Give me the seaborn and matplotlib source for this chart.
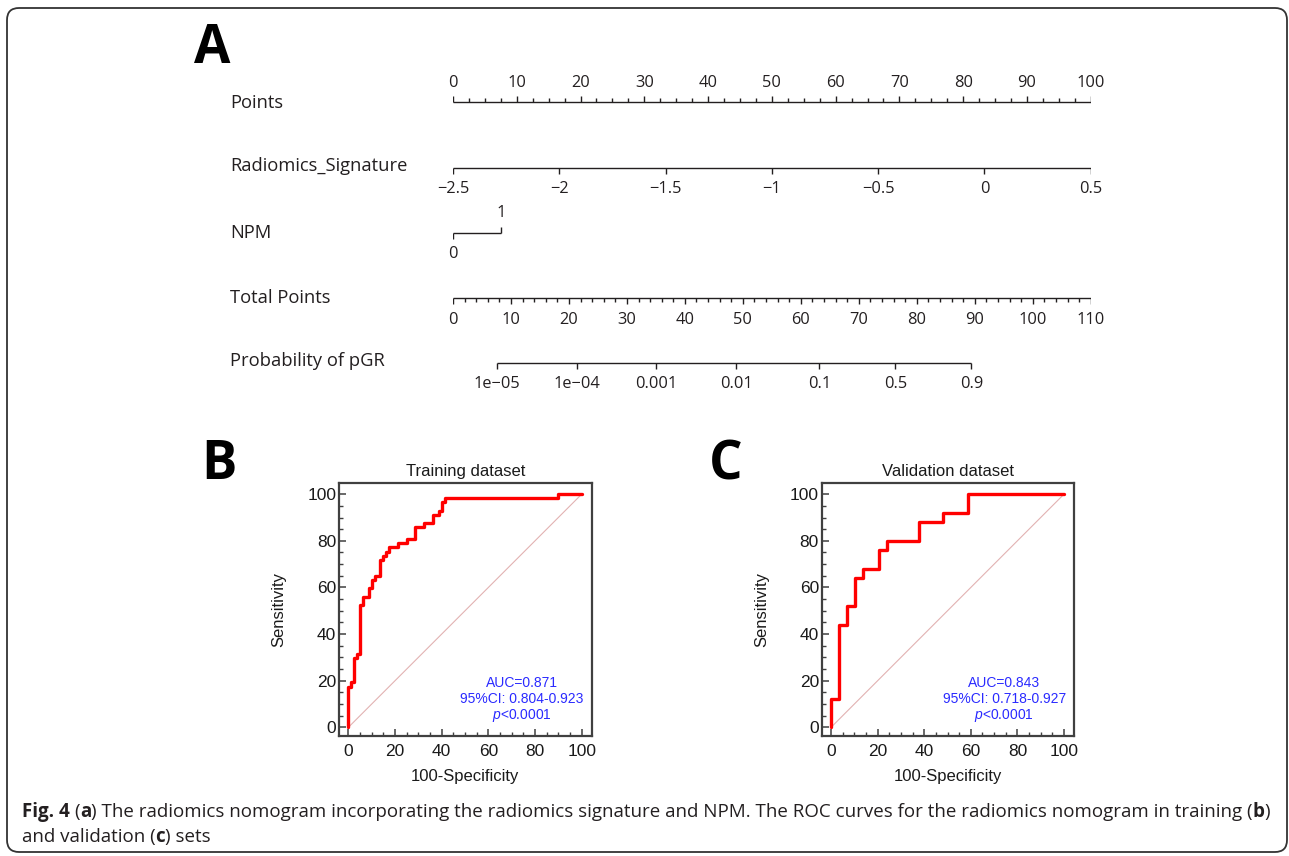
import numpy as np
import pandas as pd
import matplotlib
matplotlib.use("Agg")
import matplotlib.pyplot as plt
from matplotlib.ticker import MultipleLocator
from matplotlib.patches import FancyBboxPatch
from matplotlib.transforms import IdentityTransform
import seaborn as sns

# ------------------------------------------------------------------ data
row_labels = ["Points", "Radiomics_Signature", "NPM", "Total Points", "Probability of pGR"]

points_ticks = list(range(0, 101, 10))
radiomics_ticks = [-2.5, -2.0, -1.5, -1.0, -0.5, 0.0, 0.5]
radiomics_labels = ["\u22122.5", "\u22122", "\u22121.5", "\u22121", "\u22120.5", "0", "0.5"]
npm_values = [0, 1]
npm_points = [0.0, 7.6]
total_ticks = list(range(0, 111, 10))
prob_ticks = [1e-5, 1e-4, 1e-3, 0.01, 0.1, 0.5, 0.9]
prob_labels = ["1e\u221205", "1e\u221204", "0.001", "0.01", "0.1", "0.5", "0.9"]
model_slope = 0.1675     # logit change per total point
model_tp50 = 76.3        # total points where probability = 0.5
total_max = 110

train_fpr = [0, 1.25, 2.5, 3.75, 5.0, 6.25, 8.75, 10.0, 11.25, 13.75, 15.0, 16.25,
             17.5, 21.25, 25.0, 28.75, 32.5, 36.25, 38.75, 40.0, 41.25, 90.0, 100]
train_tpr = [0, 17.5, 19.3, 29.8, 31.6, 52.6, 56.1, 59.6, 63.2, 64.9, 71.9, 73.7,
             75.4, 77.2, 78.9, 80.7, 86.0, 87.7, 91.2, 93.0, 96.5, 98.2, 100]
valid_fpr = [0, 3.45, 6.9, 10.34, 13.79, 20.69, 24.14, 37.93, 48.28, 58.62, 100]
valid_tpr = [0, 12, 44, 52, 64, 68, 76, 80, 88, 92, 100]
diag = [0, 100]

train_text = ["AUC=0.871", "95%CI: 0.804-0.923", "p"]
valid_text = ["AUC=0.843", "95%CI: 0.718-0.927", "p"]

caption_line1 = [("Fig. 4", True, False), ("(", False, True), ("a", True, False),
                 (") The radiomics nomogram incorporating the radiomics signature and NPM. "
                  "The ROC curves for the radiomics nomogram in training (", False, False),
                 ("b", True, False), (")", False, False)]
caption_line2 = [("and validation (", False, False), ("c", True, False), (") sets", False, False)]

# ------------------------------------------------------------------ style
sns.set_style("white")
plt.rcParams["font.family"] = ["Open Sans", "DejaVu Sans"]
plt.rcParams["mathtext.fontset"] = "custom"
plt.rcParams["mathtext.rm"] = "Liberation Sans"
plt.rcParams["mathtext.it"] = "Liberation Sans:italic"

W, H = 1289, 856
fig = plt.figure(figsize=(W / 100, H / 100), dpi=100)
fig.patch.set_facecolor("white")


def fy(py):
    return 1 - py / H


INK = "#231f20"

# ------------------------------------------------------------------ nomogram (A)
ax = fig.add_axes([453 / W, fy(400), (1090.7 - 453) / W, 340 / H])
ax.set_xlim(0, 100)
ax.set_ylim(400, 60)
ax.axis("off")

ROWS = [101.5, 167.5, 232.5, 298.0, 363.0]
LBL_Y = [103, 166, 233, 298, 361]
lw = 1.0
big, small = 6.0, 3.5
tfs = 11.8

for lab, yy in zip(row_labels, LBL_Y):
    ax.text(-34.9, yy, lab, ha="left", va="center", fontsize=13.2, color=INK, clip_on=False)

# Points
y = ROWS[0]
ax.hlines(y, 0, 100, color=INK, lw=lw)
ax.vlines(points_ticks, y - big, y, color=INK, lw=lw)
minor = [v for v in np.arange(0, 100.01, 2.5) if v % 10 != 0]
ax.vlines(minor, y - small, y, color=INK, lw=lw)
for v in points_ticks:
    ax.text(v, y - 18.5, str(v), ha="center", va="center", fontsize=tfs, color=INK)

# Radiomics signature
y = ROWS[1]
r0, r1 = radiomics_ticks[0], radiomics_ticks[-1]
rs_pts = [(v - r0) / (r1 - r0) * 100 for v in radiomics_ticks]
ax.hlines(y, rs_pts[0], rs_pts[-1], color=INK, lw=lw)
ax.vlines(rs_pts, y, y + big, color=INK, lw=lw)
for p, l in zip(rs_pts, radiomics_labels):
    ax.text(p, y + 21.5, l, ha="center", va="center", fontsize=tfs, color=INK)

# NPM
y = ROWS[2]
ax.hlines(y, npm_points[0], npm_points[1], color=INK, lw=lw)
ax.vlines(npm_points[0], y, y + big, color=INK, lw=lw)
ax.vlines(npm_points[1], y - big, y, color=INK, lw=lw)
ax.text(npm_points[0], y + 21.5, str(npm_values[0]), ha="center", va="center", fontsize=tfs, color=INK)
ax.text(npm_points[1], y - 19.5, str(npm_values[1]), ha="center", va="center", fontsize=tfs, color=INK)

# Total points
y = ROWS[3]
tp_pos = [v * 100 / total_max for v in total_ticks]
ax.hlines(y, 0, 100, color=INK, lw=lw)
ax.vlines(tp_pos, y, y + big, color=INK, lw=lw)
tminor = [v * 100 / total_max for v in range(0, total_max + 1, 2) if v % 10 != 0]
ax.vlines(tminor, y, y + small, color=INK, lw=lw)
for p, v in zip(tp_pos, total_ticks):
    ax.text(p, y + 21.5, str(v), ha="center", va="center", fontsize=tfs, color=INK)

# Probability
y = ROWS[4]
pr_tp = [model_tp50 + np.log(p / (1 - p)) / model_slope for p in prob_ticks]
pr_pos = [v * 100 / total_max for v in pr_tp]
ax.hlines(y, pr_pos[0], pr_pos[-1], color=INK, lw=lw)
ax.vlines(pr_pos, y, y + big, color=INK, lw=lw)
for p, l in zip(pr_pos, prob_labels):
    ax.text(p, y + 21, l, ha="center", va="center", fontsize=tfs, color=INK)

# ------------------------------------------------------------------ ROC panels
ROCFONT = ["Liberation Sans", "DejaVu Sans"]
TXT = "#1a1a1a"


def roc_panel(rect, fpr, tpr, title, lines):
    a = fig.add_axes(rect)
    sns.lineplot(x=diag, y=diag, ax=a, color="#e2b2b2", lw=0.8)
    sns.lineplot(x=fpr, y=tpr, ax=a, color="#ff0000", lw=2.4,
                 drawstyle="steps-pre", estimator=None, sort=False)
    a.set_xlim(-4.0, 104.3)
    a.set_ylim(-3.7, 104.8)
    a.set_xticks(range(0, 101, 20))
    a.set_yticks(range(0, 101, 20))
    a.xaxis.set_minor_locator(MultipleLocator(5))
    a.yaxis.set_minor_locator(MultipleLocator(5))
    a.tick_params(which="major", direction="in", length=5, width=1.1, color="#404040",
                  top=False, right=False, bottom=True, left=True)
    a.tick_params(which="minor", direction="in", length=3, width=1.0, color="#404040",
                  top=False, right=False, bottom=True, left=True)
    a.tick_params(axis="x", which="major", pad=6)
    a.tick_params(axis="y", which="major", pad=2)
    for lab in a.get_xticklabels() + a.get_yticklabels():
        lab.set_family(ROCFONT)
        lab.set_fontsize(12.5)
        lab.set_color(TXT)
    for sp in a.spines.values():
        sp.set_linewidth(1.6)
        sp.set_color("#404040")
    a.set_title(title, family=ROCFONT, fontsize=12, color=TXT, pad=5)
    a.set_xlabel("100-Specificity", family=ROCFONT, fontsize=12, color=TXT, labelpad=7)
    a.set_ylabel("Sensitivity", family=ROCFONT, fontsize=12, color=TXT, labelpad=15)
    blue = "#2a2aff"
    a.text(74.4, 19.0, lines[0], ha="center", va="center", family=ROCFONT, fontsize=10, color=blue)
    a.text(74.4, 12.2, lines[1], ha="center", va="center", family=ROCFONT, fontsize=10, color=blue)
    a.text(74.4, 5.0, r"$\it{" + lines[2] + "}$<0.0001", ha="center", va="center",
           family=ROCFONT, fontsize=10, color=blue)
    return a


roc_panel([339 / W, fy(736), 252.7 / W, 253 / H], train_fpr, train_tpr, "Training dataset", train_text)
roc_panel([821.7 / W, fy(736), 252.3 / W, 253 / H], valid_fpr, valid_tpr, "Validation dataset", valid_text)

# ------------------------------------------------------------------ panel letters
for letter, x, yb in [("A", 194, 63), ("B", 201, 479), ("C", 709, 479)]:
    fig.text(x / W, fy(yb), letter, fontsize=38, fontweight="bold", family=["Open Sans"],
             ha="left", va="baseline", color="black")

# ------------------------------------------------------------------ caption
renderer = fig.canvas.get_renderer()


def text_w(s, size, bold):
    t = fig.text(0, 0, s, fontsize=size, fontweight="bold" if bold else "normal",
                 family=["Open Sans"])
    w = t.get_window_extent(renderer=renderer).width
    t.remove()
    return w


def run_width(runs, size):
    sp = text_w("a a", size, False) - text_w("aa", size, False)
    tot = 0
    for s, b, space in runs:
        if space:
            tot += sp
        tot += text_w(s, size, b)
    return tot


def draw_runs(runs, x0, yb, size):
    sp = text_w("a a", size, False) - text_w("aa", size, False)
    x = x0
    for s, b, space in runs:
        if space:
            x += sp
        fig.text(x / W, fy(yb), s, fontsize=size, fontweight="bold" if b else "normal",
                 family=["Open Sans"], ha="left", va="baseline", color=INK)
        x += text_w(s, size, b)


base = 12.0
cap_size = base * 1245 / run_width(caption_line1, base)
draw_runs(caption_line1, 22, 817, cap_size)
draw_runs(caption_line2, 22, 842, cap_size)

# ------------------------------------------------------------------ border
border = FancyBboxPatch((7, H - 852), 1280, 844, boxstyle="round,pad=0,rounding_size=12",
                        transform=IdentityTransform(), fill=False, ec="#333333", lw=1.3)
fig.add_artist(border)

fig.savefig("out.png", dpi=100)
